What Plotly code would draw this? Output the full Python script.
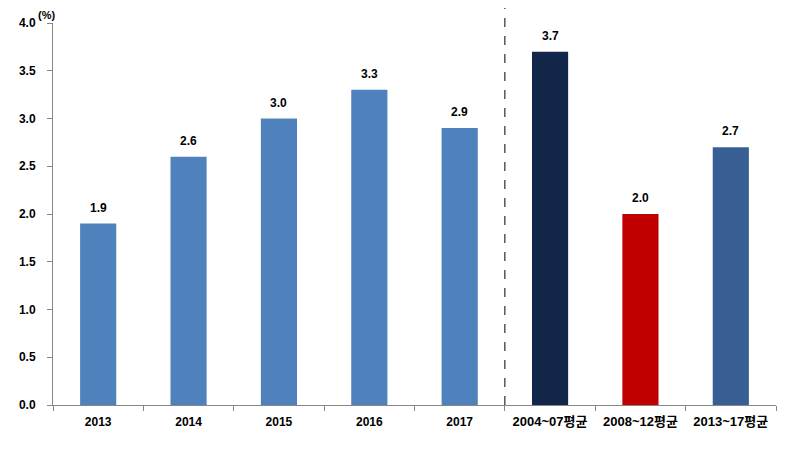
import plotly.graph_objects as go

# growth rates (%)
categories = ["2013", "2014", "2015", "2016", "2017", "2004~07평균", "2008~12평균", "2013~17평균"]
values = [1.9, 2.6, 3.0, 3.3, 2.9, 3.7, 2.0, 2.7]
bar_colors = ["#4F81BD"] * 5 + ["#12264A", "#C00000", "#385F93"]

font_family = "Arial, Liberation Sans, Noto Sans CJK KR"

# period-average labels are drawn a bit larger, as in the original
tick_text = [c if i < 5 else f"<span style='font-size:13px'>{c}</span>"
             for i, c in enumerate(categories)]

fig = go.Figure()
fig.add_trace(go.Bar(
    x=categories, y=values,
    marker=dict(color=bar_colors, line=dict(width=0)),
    width=0.4,
    hoverinfo="x+y",
))

# value labels above the bars (category index used as x)
for i, v in enumerate(values):
    fig.add_annotation(x=i, y=v, text=f"<b>{v:.1f}</b>", showarrow=False,
                       yanchor="bottom", yshift=7,
                       font=dict(size=12, color="#000000", family=font_family))

# dashed divider between yearly values and period averages
fig.add_shape(type="line", xref="x", yref="paper", x0=4.5, x1=4.5, y0=0, y1=1.06,
              line=dict(color="#000000", width=1, dash="dash"))

fig.add_annotation(text="<b>(%)</b>", xref="paper", yref="paper", x=0, y=1.0,
                   xanchor="center", yanchor="middle", showarrow=False, yshift=8,
                   xshift=-7,
                   font=dict(size=11, color="#000000", family=font_family))

# page body adds an 8px offset, so margins are shifted to compensate
fig.update_layout(
    width=792, height=457,
    margin=dict(l=45, r=24, t=15, b=60),
    plot_bgcolor="white", paper_bgcolor="white",
    showlegend=False,
    font=dict(family=font_family, size=12, color="#000000"),
)
fig.update_xaxes(
    type="category", categoryorder="array", categoryarray=categories,
    range=[-0.5, len(categories) - 0.5],
    tickvals=categories, ticktext=tick_text,
    tickson="boundaries", ticks="outside", ticklen=5,
    tickcolor="#868686", showline=True, linecolor="#868686", linewidth=1,
    tickfont=dict(size=12, family=font_family, weight="bold"),
    ticklabelstandoff=6, automargin=False,
    showgrid=False,
)
fig.update_yaxes(
    range=[0, 4.0], dtick=0.5, tickformat=".1f", ticks="outside", ticklen=5,
    tickcolor="#868686", showline=True, linecolor="#868686", linewidth=1,
    tickfont=dict(size=12, family=font_family, weight="bold"),
    ticklabelstandoff=9, automargin=False,
    showgrid=False, zeroline=False,
)

fig.write_html("out.html")
